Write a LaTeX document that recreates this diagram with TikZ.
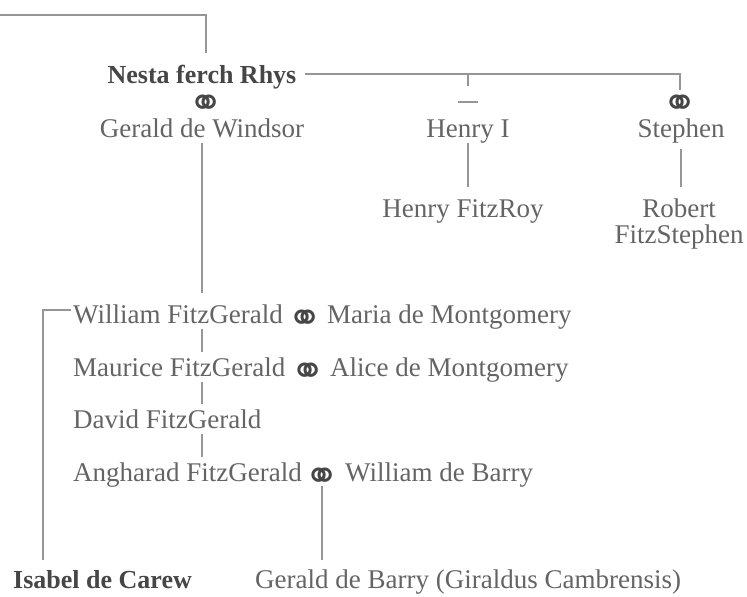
\documentclass[tikz,border=0pt]{standalone}
\usepackage{fontspec}
\setmainfont{Liberation Serif}
\newfontfamily\symfont{DejaVu Sans}
\definecolor{txtgray}{RGB}{100,100,100}
\definecolor{boldgray}{RGB}{70,70,70}
\definecolor{linegray}{RGB}{150,150,150}
\newcommand{\ringmark}{\raisebox{-16.4pt}{⚭}}
\begin{document}
\begin{tikzpicture}[x=1pt,y=-1pt,
  person/.style={font=\fontsize{27}{32}\selectfont, text=txtgray, inner sep=2pt,
     text height=22pt, text depth=4pt},
  boldperson/.style={person, font=\fontsize{26}{32}\selectfont\bfseries, text=boldgray},
  ringsym/.style={font=\symfont\fontsize{42}{42}\selectfont\bfseries, text=boldgray, inner sep=0pt,
     text height=6pt, text depth=6pt, anchor=center},
  link/.style={draw=linegray, line width=2.4pt}
]
\useasboundingbox (0,0) rectangle (747,597);

% top generation
\node[boldperson, anchor=base] (nesta) at (202,83) {Nesta ferch Rhys};
\node[ringsym] (r0) at (206,101) {\ringmark};
\node[person, anchor=base] (gw) at (202,137) {Gerald de Windsor};
\node[person, anchor=base] (henry) at (468,137) {Henry I};
\node[ringsym] (r2) at (680,101) {\ringmark};
\node[person, anchor=base] (stephen) at (681,137) {Stephen};
\node[person, anchor=base] (fitzroy) at (463,217) {Henry FitzRoy};
\node[person, anchor=base, align=center] (robert) at (679,217) {Robert};
\node[person, anchor=base] (fitzstephen) at (679,243) {FitzStephen};

% FitzGerald line
\node[person, anchor=base west] (wf) at (71,323) {William FitzGerald};
\node[ringsym] (r3) at (305,316) {\ringmark};
\node[person, anchor=base west] (maria) at (325,323) {Maria de Montgomery};
\node[person, anchor=base west] (mf) at (71,376) {Maurice FitzGerald};
\node[ringsym] (r4) at (308,369) {\ringmark};
\node[person, anchor=base west] (alice) at (328,376) {Alice de Montgomery};
\node[person, anchor=base west] (df) at (71,428) {David FitzGerald};
\node[person, anchor=base west] (ah) at (71,481) {Angharad FitzGerald};
\node[ringsym] (r5) at (322,474) {\ringmark};
\node[person, anchor=base west] (wb) at (343,481) {William de Barry};
\node[boldperson, anchor=base west] (isabel) at (11,588) {Isabel de Carew};
\node[person, anchor=base west] (gb) at (253,588) {Gerald de Barry (Giraldus Cambrensis)};

% connectors
\coordinate (tl) at (0,15);
\coordinate (n1) at (206,53);
\draw[link] (tl) -| (n1);
\coordinate (st) at (680,90);
\draw[link] ([xshift=6pt]nesta.east) -| (st);
\draw[link] (henry.north |- nesta.east) -- ++(0,12);
\coordinate (d1) at (458,102);
\coordinate (d2) at (478,102);
\draw[link] (d1) -- (d2);
\draw[link] (henry.south) -- ([yshift=6pt]henry.south |- fitzroy.north);
\draw[link] ([yshift=-6pt]stephen.south) -- ([yshift=6pt]stephen.south |- robert.north);
\draw[link] (gw.south) -- ([yshift=6pt]gw.south |- wf.north);
\draw[link] (gw.south |- wf.south) -- (gw.south |- mf.north);
\draw[link] (gw.south |- mf.south) -- (gw.south |- df.north);
\draw[link] (gw.south |- df.south) -- (gw.south |- ah.north);
\coordinate (ic) at (43,560);
\draw[link] ([yshift=4pt]wf.west) -| (ic);
\coordinate (gbt) at (322,560);
\draw[link] (r5.south) ++(0,6) -- (gbt);
\end{tikzpicture}
\end{document}
